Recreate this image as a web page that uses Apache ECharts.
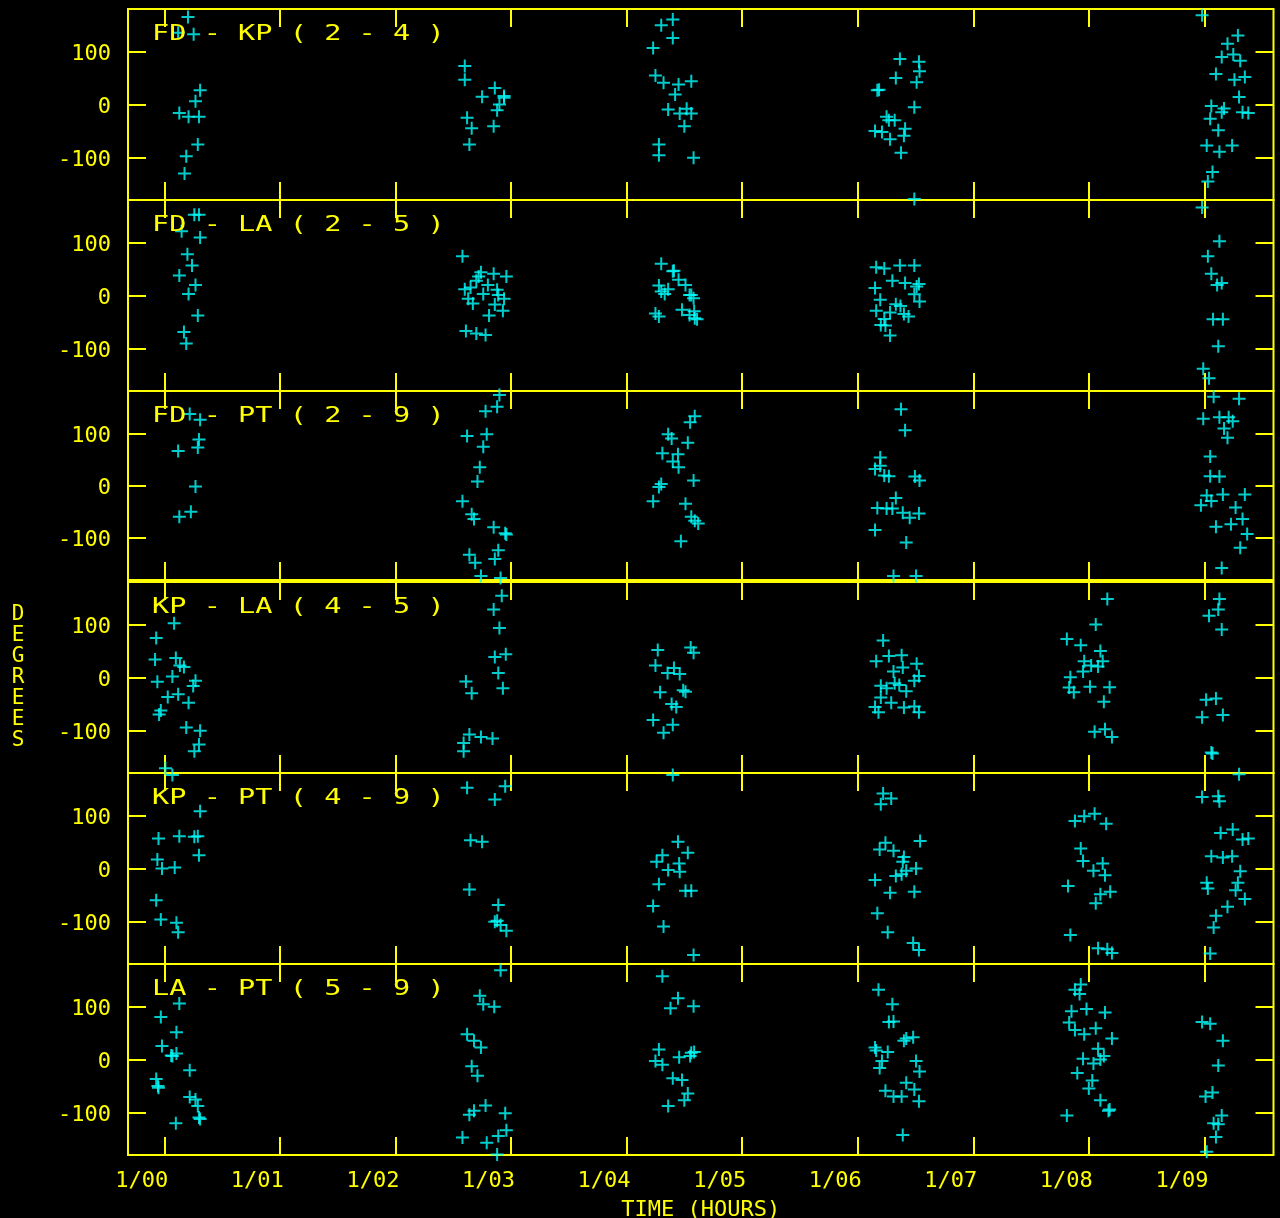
<!DOCTYPE html>
<html>
<head>
<meta charset="utf-8">
<script src="https://cdn.jsdelivr.net/npm/echarts@6/dist/echarts.min.js"></script>
<style>
  html, body { margin: 0; padding: 0; background: #000; }
  #chart { width: 1280px; height: 1218px; }
</style>
</head>
<body>
<div id="chart"></div>
<script>
// Tick positions (hours after 1/00) and phase ticks (degrees)
const hourTicks = [0, 1, 2, 3, 4, 5, 6, 7, 8, 9];
const degreeTicks = [-100, 0, 100];

// Baseline names, one per panel
const baselineLabels = [
  'FD - KP ( 2 - 4 )',
  'FD - LA ( 2 - 5 )',
  'FD - PT ( 2 - 9 )',
  'KP - LA ( 4 - 5 )',
  'KP - PT ( 4 - 9 )',
  'LA - PT ( 5 - 9 )'
];

// Phase samples per baseline: [time in hours, phase in degrees]
const fdKp = [
  [0.205,166],[0.12,136],[0.254,133],[0.31,27],[0.27,6],[0.13,-16],[0.21,-23],[0.30,-23],[0.29,-76],[0.19,-98],[0.175,-131],
  [2.60,73],[2.60,47],[2.75,14.5],[2.86,31.5],[2.94,16],[2.90,0],[2.88,-11],[2.94,12.6],[2.62,-25],[2.66,-45],[2.85,-41],[2.64,-76],
  [4.40,161],[4.30,150],[4.40,126],[4.23,107],[4.25,55],[4.32,41],[4.45,38],[4.56,44],[4.42,19],[4.36,-9.5],[4.46,-17],[4.52,-8],[4.56,-17],[4.50,-41],[4.28,-76],[4.28,-96],[4.58,-101],
  [6.365,86],[6.53,81],[6.535,63],[6.33,50],[6.51,42],[6.185,28],[6.17,27],[6.49,-5],[6.25,-23],[6.27,-30],[6.32,-30],[6.15,-50],[6.21,-52],[6.41,-46],[6.40,-59],[6.28,-66],[6.375,-91.5],[6.49,-179],
  [8.98,169],[9.29,131],[9.20,115],[9.15,90],[9.25,95],[9.31,83],[9.10,58],[9.26,47],[9.35,52],[9.30,14],[9.06,-3],[9.17,-7.5],[9.15,-14.5],[9.33,-14.5],[9.38,-16],[9.05,-27],[9.12,-48.6],[9.02,-77.6],[9.13,-89.6],[9.24,-77.6],[9.07,-128],[9.03,-146]
];
const fdLa = [
  [0.26,153],[0.30,153],[0.15,122],[0.31,110],[0.20,78],[0.24,57],[0.13,38],[0.27,20],[0.21,3],[0.29,-38],[0.17,-69],[0.19,-91],
  [2.58,74.5],[2.74,44],[2.72,36],[2.85,41],[2.96,36],[2.80,20],[2.70,28],[2.60,12],[2.65,15],[2.76,3],[2.88,11],[2.89,1],[2.94,-6],[2.63,-6],[2.67,-15],[2.86,-17],[2.93,-29],[2.81,-38],[2.61,-67.5],[2.70,-72],[2.78,-75],
  [4.30,60],[4.40,46],[4.41,47],[4.45,30],[4.51,20],[4.28,19],[4.36,12],[4.33,3],[4.30,7.6],[4.545,1],[4.58,-5],[4.25,-34],[4.28,-40],[4.48,-27],[4.545,-37],[4.59,-43],[4.56,1],[4.585,-30],[4.61,-45],
  [6.16,53.5],[6.23,51],[6.365,57],[6.49,57],[6.15,14],[6.30,28],[6.41,23.6],[6.51,17],[6.53,21.6],[6.49,2.5],[6.195,-8],[6.535,-11.5],[6.16,-29],[6.33,-16.6],[6.37,-20],[6.28,-32],[6.40,-35],[6.44,-40],[6.23,-44.6],[6.20,-56],[6.24,-57],[6.28,-76],
  [8.98,167],[9.13,103],[9.03,74.5],[9.06,41],[9.11,20],[9.15,23.6],[9.075,-45],[9.16,-45],[9.12,-96],[8.99,-139],[9.04,-157]
];
const fdPt = [
  [0.22,137],[0.31,126],[0.30,88],[0.29,72.6],[0.12,66],[0.27,-2],[0.23,-50.5],[0.13,-60],
  [2.90,173.5],[2.88,151],[2.78,142],[2.62,95],[2.79,98],[2.76,74],[2.73,35],[2.71,7.6],[2.58,-30],[2.66,-55],[2.68,-64],[2.85,-80],[2.95,-91.5],[2.96,-94],[2.89,-124],[2.64,-132.5],[2.69,-148],[2.86,-141],[2.74,-173.5],[2.91,-177],
  [4.59,132.5],[4.55,121],[4.36,98],[4.39,90],[4.53,82],[4.31,62],[4.445,60],[4.40,46],[4.45,35],[4.58,9.5],[4.28,-3],[4.30,3],[4.23,-30],[4.51,-35],[4.56,-60],[4.59,-67.5],[4.47,-107],[4.62,-72.6],
  [6.375,146],[6.41,106],[6.195,53.6],[6.195,38],[6.15,31.5],[6.23,19],[6.27,17.7],[6.495,17],[6.535,9.5],[6.33,-24],[6.17,-43],[6.25,-44],[6.30,-44],[6.39,-52],[6.45,-62],[6.53,-53.6],[6.15,-85],[6.42,-109],[6.31,-173.5],[6.505,-173.5],
  [9.08,170],[9.30,166],[8.99,128],[9.13,130.6],[9.21,130.6],[9.245,123],[9.17,109],[9.20,91.5],[9.05,55.5],[9.05,17.7],[9.13,17],[9.02,-19],[9.16,-17],[9.35,-17],[9.06,-29.6],[8.97,-38],[9.27,-42],[9.33,-64],[9.10,-79],[9.23,-74],[9.37,-93],[9.31,-119],[9.15,-158]
];
const kpLa = [
  [0.085,103],[-0.07,75],[-0.08,34],[0.10,37],[0.135,22.6],[0.17,20],[0.07,2],[-0.06,-8],[0.27,-6],[0.25,-16],[0.03,-37],[0.12,-31.6],[0.21,-48],[-0.03,-62.6],[-0.045,-70],[0.19,-95],[0.31,-101],[0.30,-127],[0.26,-140],[0.01,-172],
  [2.92,155],[2.85,129],[2.90,94],[2.86,39],[2.955,44],[2.89,8.4],[2.93,-20.6],[2.61,-7.7],[2.66,-30],[2.64,-108],[2.74,-113],[2.84,-115.5],[2.59,-124],[2.59,-140],
  [4.27,52],[4.555,57],[4.58,47],[4.25,22.6],[4.355,8.4],[4.41,18],[4.46,6.5],[4.29,-28],[4.49,-24],[4.51,-27],[4.39,-50],[4.43,-56],[4.23,-80.6],[4.40,-89.7],[4.32,-104.5],
  [6.22,70],[6.27,40.6],[6.38,42],[6.16,31],[6.51,26],[6.39,19],[6.31,11.6],[6.53,3],[6.49,-6],[6.20,-15.5],[6.25,-20.6],[6.32,-11],[6.36,-14],[6.42,-26],[6.20,-38],[6.29,-48],[6.15,-56],[6.18,-66],[6.40,-57],[6.49,-55],[6.53,-66],
  [8.16,149],[8.06,100.6],[7.81,73],[7.93,61],[8.10,50],[7.96,31],[8.02,22.6],[8.08,21],[8.12,31],[7.95,11.6],[7.84,0.6],[7.83,-19],[7.87,-28],[8.01,-17.4],[8.18,-18.7],[8.13,-46],[8.05,-103],[8.14,-98],[8.20,-113],
  [9.13,149],[9.12,129],[9.04,117],[9.15,91],[9.015,-42],[9.10,-40],[8.98,-75.5],[9.16,-71],[9.06,-142],[9.07,-144]
];
const kpPt = [
  [0.07,177],[0.31,108.5],[-0.05,57],[0.13,61],[0.26,60],[0.29,61],[0.30,25],[-0.06,17],[-0.02,0],[0.09,2],[-0.07,-60],[-0.03,-96.5],[0.105,-103],[0.12,-121],
  [2.62,153],[2.95,156],[2.86,131],[2.65,53.6],[2.75,50.5],[2.64,-40],[2.89,-69],[2.88,-99],[2.86,-101],[2.91,-107],[2.96,-118],
  [4.40,177],[4.445,50.5],[4.53,29.7],[4.31,25],[4.26,12.6],[4.455,9.5],[4.36,-3],[4.46,-6],[4.28,-30],[4.51,-42],[4.56,-42],[4.23,-71],[4.32,-110],[4.58,-164],
  [6.22,142],[6.29,132.5],[6.20,122],[6.24,48.6],[6.19,36],[6.31,33.8],[6.54,52],[6.40,22],[6.39,12.6],[6.505,0],[6.42,-4.4],[6.33,-14],[6.38,-11],[6.15,-22],[6.49,-44],[6.28,-46],[6.17,-85],[6.26,-121],[6.48,-141],[6.53,-154.5],
  [7.88,90],[7.96,99],[8.05,104],[8.15,85],[7.93,38],[7.95,14],[8.12,9.5],[8.04,-4.4],[8.14,-12.6],[7.82,-33],[8.10,-49],[8.185,-44],[8.06,-66],[7.84,-126],[8.08,-151],[8.16,-153],[8.20,-160],
  [9.30,178.5],[8.98,135.6],[9.12,137],[9.13,127.4],[9.14,67.5],[9.245,74],[9.33,55],[9.38,57],[9.06,23.3],[9.16,21],[9.24,23.3],[9.31,-5],[9.02,-27],[9.03,-38],[9.29,-27],[9.27,-41],[9.35,-58],[9.20,-72.6],[9.10,-89.6],[9.08,-111.7],[9.05,-161]
];
const laPt = [
  [0.13,106],[-0.03,80.6],[0.105,51.6],[-0.02,25.8],[0.06,7.7],[0.105,11.6],[0.07,6.5],[0.22,-20.6],[-0.07,-36.8],[-0.05,-53.5],[-0.055,-50],[0.22,-71],[0.27,-76],[0.29,-88],[0.31,-113],[0.30,-110],[0.10,-120.6],
  [2.91,169],[2.73,121],[2.76,104.5],[2.855,100],[2.62,48],[2.68,35.5],[2.74,22.6],[2.66,-13],[2.71,-31],[2.78,-87],[2.68,-97],[2.64,-104.5],[2.95,-102],[2.96,-134],[2.89,-145],[2.58,-148],[2.79,-158],[2.88,-180],
  [4.31,158],[4.445,116],[4.38,97],[4.58,101],[4.28,19],[4.25,-3],[4.31,-10],[4.455,4.5],[4.56,13],[4.585,14],[4.55,6.5],[4.40,-35.5],[4.48,-39],[4.53,-64.5],[4.50,-77],[4.36,-88],
  [6.18,132],[6.30,104.5],[6.31,72],[6.27,71],[6.42,40],[6.48,42],[6.40,35.5],[6.15,22.6],[6.16,17],[6.26,14],[6.21,-3],[6.19,-16],[6.505,-3],[6.535,-22.6],[6.42,-44],[6.24,-59],[6.31,-70],[6.38,-70],[6.49,-57],[6.53,-79],[6.39,-143],
  [7.93,142],[7.88,132],[7.92,124],[7.85,91.6],[7.98,95.5],[8.14,89],[7.83,70],[7.88,56],[7.96,48],[8.06,59],[8.20,40],[8.08,20.6],[8.13,6.5],[8.10,0],[7.95,1.3],[8.04,-7.7],[7.90,-25.8],[8.03,-40],[8.00,-55],[8.10,-77],[8.18,-95],[8.17,-97],[7.81,-106],
  [8.98,71],[9.05,67.7],[9.16,35.5],[9.12,-11.6],[9.07,-62.6],[9.01,-70],[9.15,-106],[9.08,-120.6],[9.12,-122.6],[9.10,-147],[9.02,-175]
];

const panelData = [fdKp, fdLa, fdPt, kpLa, kpPt, laPt];

const YELLOW = '#ffff00';
const CYAN = '#00ffff';
const MONO = '"DejaVu Sans Mono", "Liberation Mono", monospace';
const X_MIN = -0.314, X_MAX = 9.598, Y_LIM = 181;
const PLOT_LEFT = 128, PLOT_RIGHT = 6.5;
const panelTops = [9, 200, 391, 582, 773, 964];
const panelHeights = [191, 191, 189, 191, 191, 191];
const PLUS = 'path://M0,5.5H13V7.5H0Z M5.5,0H7.5V13H5.5Z';

const tickStyle = { color: YELLOW, width: 2 };
const pad2 = v => String(Math.round(v)).padStart(2, '0');

const grids = [], xAxes = [], yAxes = [], series = [], graphics = [];

panelData.forEach((data, i) => {
  const last = i === panelData.length - 1;
  grids.push({
    show: true, left: PLOT_LEFT, right: PLOT_RIGHT,
    top: panelTops[i], height: panelHeights[i],
    outerBoundsMode: 'none', containLabel: false,
    borderColor: YELLOW, borderWidth: 2, backgroundColor: 'transparent'
  });

  // time axes along the bottom and top edge of each panel
  ['bottom', 'top'].forEach(pos => {
    const withLabels = last && pos === 'bottom';
    xAxes.push({
      gridIndex: i, type: 'value', position: pos, min: X_MIN, max: X_MAX,
      axisLine: { show: false, onZero: false }, splitLine: { show: false },
      axisTick: { show: true, inside: true, length: 18, customValues: hourTicks, lineStyle: tickStyle },
      axisLabel: {
        show: withLabels, customValues: hourTicks,
        formatter: v => '1/' + pad2(v),
        color: YELLOW, fontFamily: MONO, fontSize: 22,
        align: 'right', padding: [0, -4, 0, 0], margin: 15
      },
      name: withLabels ? 'TIME (HOURS)' : '',
      nameLocation: 'middle', nameGap: 44,
      nameTextStyle: { color: YELLOW, fontFamily: MONO, fontSize: 22 }
    });
  });

  // phase axes along the left and right edge of each panel
  ['left', 'right'].forEach(pos => {
    const isLeft = pos === 'left';
    yAxes.push({
      gridIndex: i, type: 'value', position: pos, min: -Y_LIM, max: Y_LIM,
      axisLine: { show: false, onZero: false }, splitLine: { show: false },
      axisTick: { show: true, inside: true, length: 18, customValues: degreeTicks, lineStyle: tickStyle },
      axisLabel: {
        show: isLeft, customValues: degreeTicks,
        color: YELLOW, fontFamily: MONO, fontSize: 22, margin: 17,
        verticalAlign: 'top', padding: [-8, 0, 0, 0]
      },
      name: (isLeft && i === 3) ? 'D\nE\nG\nR\nE\nE\nS' : '',
      nameLocation: 'middle', nameRotate: 0, nameGap: 110,
      nameTextStyle: {
        color: YELLOW, fontFamily: MONO, fontSize: 21, lineHeight: 21,
        align: 'center', verticalAlign: 'middle'
      }
    });
  });

  series.push({
    type: 'scatter', xAxisIndex: 2 * i, yAxisIndex: 2 * i,
    data: data, symbol: PLUS, symbolSize: 13,
    itemStyle: { color: CYAN }, silent: true, animation: false
  });

  graphics.push({
    type: 'text', x: 152, y: panelTops[i] + 25, scaleX: 1.3, z: 10,
    style: {
      text: baselineLabels[i], fill: YELLOW, fontFamily: MONO, fontSize: 22,
      textAlign: 'left', textVerticalAlign: 'middle', align: 'left', verticalAlign: 'middle'
    }
  });
});

const chart = echarts.init(document.getElementById('chart'), null, { renderer: 'canvas' });
chart.setOption({
  backgroundColor: '#000',
  animation: false,
  grid: grids,
  xAxis: xAxes,
  yAxis: yAxes,
  series: series,
  graphic: graphics
});
</script>
</body>
</html>
